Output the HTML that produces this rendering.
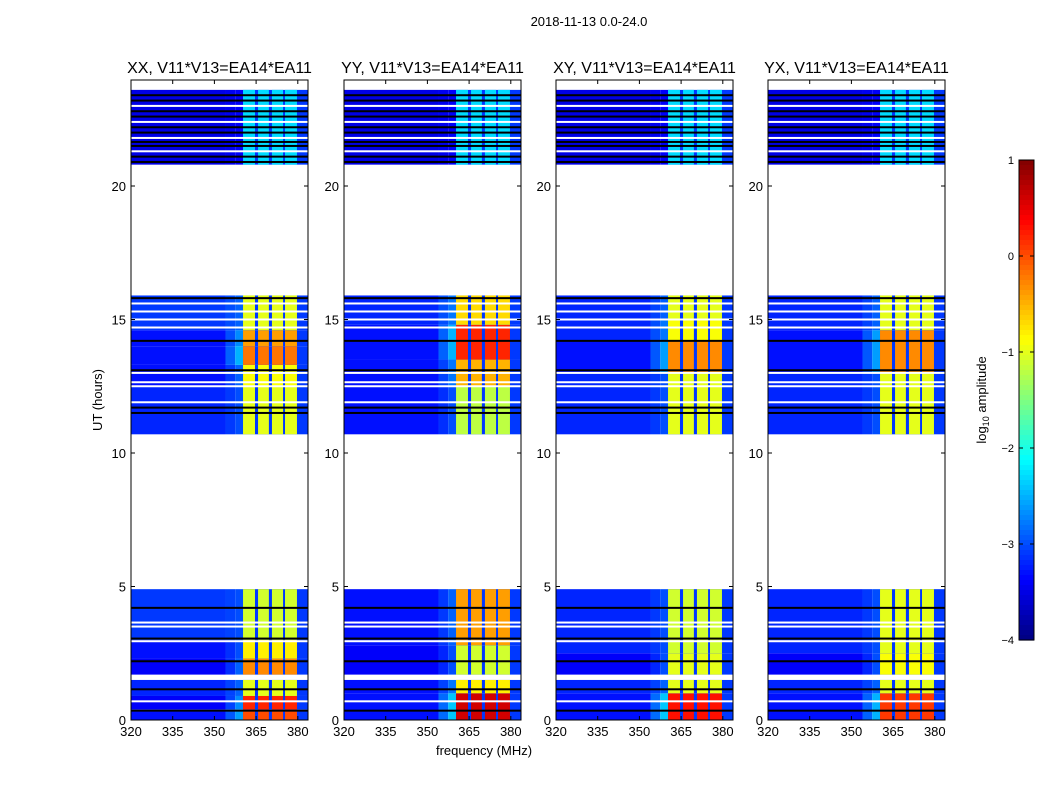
<!DOCTYPE html>
<html><head><meta charset="utf-8"><style>
body{margin:0;background:#fff;}
svg{display:block;font-family:"Liberation Sans",sans-serif;}
</style></head><body>
<svg id="fig" width="1050" height="800" viewBox="0 0 1050 800" xmlns="http://www.w3.org/2000/svg">
<text x="589" y="26" font-size="13" text-anchor="middle">2018-11-13 0.0-24.0</text>
<text x="484" y="755" font-size="13" text-anchor="middle">frequency (MHz)</text>
<text transform="translate(102,400) rotate(-90)" font-size="13" text-anchor="middle">UT (hours)</text>
<g id="panels"></g>
<g id="cbar"></g>
<text transform="translate(986,400) rotate(-90)" font-size="13" text-anchor="middle">log<tspan font-size="9" dy="3">10</tspan><tspan dy="-3"> amplitude</tspan></text>
</svg>
<script>
const titles=["XX, V11*V13=EA14*EA11","YY, V11*V13=EA14*EA11","XY, V11*V13=EA14*EA11","YX, V11*V13=EA14*EA11"];
const panelLefts=[131,344,556,768];
const xTicks=[320,335,350,365,380];
const yTicks=[0,5,10,15,20];
const cbTicks=[1,0,-1,-2,-3,-4];
const cbLabels=["1","0","\u22121","\u22122","\u22123","\u22124"];
// segments: [t0,t1,background,edge,band]
const segXX=[[0,0.4,-3.3,-2.6,0.0],[0.4,0.9,-3.4,-2.7,0.2],[0.9,1.5,-3.2,-2.9,-1.0],[1.7,2.3,-3.4,-2.9,-0.3],[2.3,3.0,-3.3,-3.0,-0.8],[3.0,4.9,-3.1,-3.0,-1.1],
 [10.7,12.5,-3.2,-3.0,-1.0],[12.5,13.3,-3.3,-2.9,-0.9],[13.3,14.0,-3.3,-2.5,-0.2],[14.0,14.6,-3.3,-2.7,-0.4],[14.6,15.9,-3.1,-2.9,-1.0],[20.8,23.6,-3.5,-3.4,-2.3]];
const segYY=[[0,1.0,-3.3,-2.4,0.6],[1.0,1.5,-3.3,-2.8,-0.8],[1.7,2.8,-3.4,-3.0,-1.1],[2.8,4.9,-3.3,-2.9,-0.4],
 [10.7,12.5,-3.3,-3.0,-1.2],[12.5,13.5,-3.3,-2.8,-0.5],[13.5,14.8,-3.3,-2.5,0.2],[14.8,15.9,-3.2,-2.8,-0.7],[20.8,23.6,-3.5,-3.4,-2.3]];
const segXY=[[0,1.0,-3.3,-2.4,0.3],[1.0,1.5,-3.2,-2.9,-1.0],[1.7,2.5,-3.4,-3.0,-1.0],[2.5,4.9,-3.2,-3.0,-1.1],
 [10.7,13.0,-3.2,-3.0,-1.0],[13.0,14.2,-3.3,-2.6,-0.3],[14.2,15.0,-3.2,-2.8,-0.9],[15.0,15.9,-3.2,-2.9,-1.0],[20.8,23.6,-3.5,-3.4,-2.3]];
const segYX=[[0,1.0,-3.3,-2.5,0.1],[1.0,1.5,-3.2,-2.9,-1.0],[1.7,2.5,-3.4,-3.0,-0.9],[2.5,4.9,-3.2,-3.0,-1.0],
 [10.7,13.0,-3.2,-3.0,-1.0],[13.0,14.6,-3.3,-2.6,-0.3],[14.6,15.9,-3.2,-2.9,-1.0],[20.8,23.6,-3.5,-3.4,-2.3]];
const segments=[segXX,segYY,segXY,segYX];
const whiteLines=[0.7,2.95,3.5,3.65,11.9,12.5,12.65,13.0,14.7,15.0,15.3,15.6,21.3,21.8,22.4,23.0];
const blackLines=[0.35,1.15,2.2,3.05,4.2,11.5,11.7,13.1,14.2,15.8,20.9,21.1,21.5,21.65,22.0,22.2,22.6,22.8,23.2,23.4];
const bandCols=[[360.3,364.6],[365.7,369.6],[370.7,374.7],[375.4,379.7]];

const NS="http://www.w3.org/2000/svg";
const PW=177,TOP=80,BOT=720,PXMHZ=2.78,PXH=26.7;
function jet(v){let t=(v+4)/5;t=Math.max(0,Math.min(1,t));
 const r=Math.max(0,Math.min(1,1.5-Math.abs(4*t-3))),g=Math.max(0,Math.min(1,1.5-Math.abs(4*t-2))),b=Math.max(0,Math.min(1,1.5-Math.abs(4*t-1)));
 return `rgb(${Math.round(r*255)},${Math.round(g*255)},${Math.round(b*255)})`;}
function mk(tag,attrs,parent){const e=document.createElementNS(NS,tag);for(const k in attrs)e.setAttribute(k,attrs[k]);parent.appendChild(e);return e;}
const yS=t=>BOT-t*PXH;
const panelsG=document.getElementById('panels');
panelLefts.forEach((L,p)=>{
 const xS=f=>L+(f-320)*PXMHZ;
 const fMax=320+PW/PXMHZ;
 const g=mk('g',{},panelsG);
 
 
 segments[p].forEach(s=>{
  const y0=yS(s[1]),h=yS(s[0])-yS(s[1]);
  let r=mk('rect',{x:xS(320),y:y0,width:xS(354)-xS(320),height:h,fill:jet(s[2])},g);
  
  
  r=mk('rect',{x:xS(354),y:y0,width:xS(357.5)-xS(354),height:h,fill:jet((s[2]+s[3])/2)},g);
  
  
  r=mk('rect',{x:xS(357.5),y:y0,width:xS(360.3)-xS(357.5),height:h,fill:jet(s[3])},g);
  
  
  r=mk('rect',{x:xS(360.3),y:y0,width:xS(fMax)-xS(360.3),height:h,fill:jet(-3.1)},g);
  
  
  bandCols.forEach(c=>{
   const rr=mk('rect',{x:xS(c[0]),y:y0,width:xS(c[1])-xS(c[0]),height:h,fill:jet(s[4])},g);
   
   
  });
 });
 whiteLines.forEach(t=>{const l=mk('rect',{x:L,y:yS(t)-1,width:PW,height:2,fill:'#fff'},g);
  
  });
 blackLines.forEach(t=>{const l=mk('rect',{x:L,y:yS(t)-1,width:PW,height:2,fill:'#000'},g);
  
  });
 const fr=mk('rect',{x:L,y:TOP,width:PW,height:BOT-TOP,fill:'none',stroke:'#000','stroke-width':1},g);
 
 
 const tt=mk('text',{x:L+PW/2,y:73,'font-size':16,'text-anchor':'middle'},g);tt.textContent=titles[p];
 
 
 xTicks.forEach(f=>{const x=xS(f);
  mk('line',{x1:x,x2:x,y1:BOT,y2:BOT-4,stroke:'#000'},g);mk('line',{x1:x,x2:x,y1:TOP,y2:TOP+4,stroke:'#000'},g);
  const t=mk('text',{x:x,y:BOT+16,'font-size':13,'text-anchor':'middle'},g);t.textContent=f;
  
  });
 yTicks.forEach(v=>{const y=yS(v);
  mk('line',{x1:L,x2:L+4,y1:y,y2:y,stroke:'#000'},g);mk('line',{x1:L+PW,x2:L+PW-4,y1:y,y2:y,stroke:'#000'},g);
  const t=mk('text',{x:L-5,y:y+5,'font-size':13,'text-anchor':'end'},g);t.textContent=v;
  
  });
});
// colorbar
const cb=document.getElementById('cbar');
const CBX=1019,CBW=15,CBT=160,CBB=640;
for(let i=0;i<96;i++){const v0=1-i*5/96;
 mk('rect',{x:CBX,y:CBT+i*(CBB-CBT)/96,width:CBW,height:(CBB-CBT)/96+0.6,fill:jet(v0-5/192)},cb);}
mk('rect',{x:CBX,y:CBT,width:CBW,height:CBB-CBT,fill:'none',stroke:'#000'},cb);
cbTicks.forEach((v,i)=>{const y=CBT+(1-v)/5*(CBB-CBT);
 mk('line',{x1:CBX,x2:CBX+4,y1:y,y2:y,stroke:'#000'},cb);mk('line',{x1:CBX+CBW,x2:CBX+CBW-4,y1:y,y2:y,stroke:'#000'},cb);
 const t=mk('text',{x:CBX-5,y:y+4,'font-size':11,'text-anchor':'end'},cb);t.textContent=cbLabels[i];
 
 });
</script>
</body></html>
